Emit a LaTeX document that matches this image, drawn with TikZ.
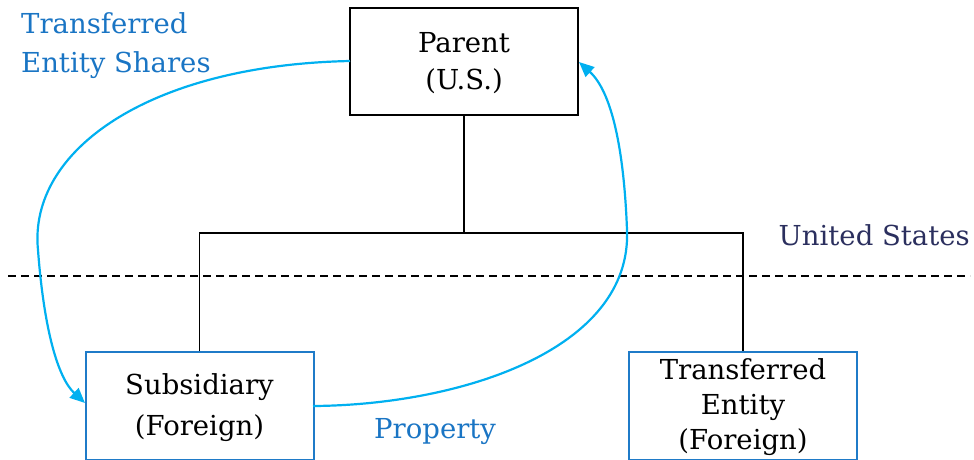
\documentclass[tikz,border=0pt]{standalone}
\usepackage{fontspec}
\setmainfont{DejaVu Serif}
\usetikzlibrary{arrows.meta}
\definecolor{flowcyan}{HTML}{00B0F0}
\definecolor{labelblue}{HTML}{1A75C4}
\definecolor{boxblue}{HTML}{1F7BC8}
\definecolor{navy}{HTML}{2B2F5E}
% invisible strut that lowers a centred text block a little
\newcommand{\lowerby}[1]{\rule{0pt}{\dimexpr 20pt+2\dimexpr #1\relax\relax}}
\tikzset{
  entity/.style={draw=black, line width=1.6pt, minimum width=228pt, minimum height=107pt,
    inner sep=0pt, align=center, font=\fontsize{27.5}{37}\selectfont},
  foreign/.style={entity, draw=boxblue, line width=2pt, minimum height=108pt},
  tree/.style={draw=black, line width=1.4pt},
  flow/.style={draw=flowcyan, line width=2.2pt, -{Triangle[length=15pt,width=13pt]}},
  flowlabel/.style={text=labelblue, align=left, inner sep=0pt, anchor=west,
    font=\fontsize{27.5}{39}\selectfont},
}
\begin{document}
\begin{tikzpicture}[x=1pt,y=-1pt]
\useasboundingbox (0,0) rectangle (974,459);
% ownership boxes
\node[entity] (parent) at (464,61.5) {\lowerby{1.5pt}Parent\\(U.S.)};
\node[foreign, font=\fontsize{27.5}{41}\selectfont] (sub) at (199.5,406)
  {\lowerby{2.5pt}Subsidiary\\(Foreign)};
\node[foreign, font=\fontsize{27.5}{35}\selectfont] (te) at (743,406)
  {\lowerby{2pt}Transferred\\Entity\\(Foreign)};
% ownership tree
\coordinate (hub) at (464,233);
\draw[tree] (parent.south) -- (hub);
\draw[tree] (sub.north) |- (hub) -| (te.north);
% border line
\coordinate (bl) at (8,276);
\coordinate (br) at (970,276);
\draw[line width=1.4pt, dash pattern=on 8pt off 5pt] (bl) -- (br);
\node[text=navy, font=\fontsize{27.5}{30}\selectfont, anchor=east, inner sep=0pt] (us) at (970,235) {United States};
% transfers
\coordinate (pl) at (350,61);
\coordinate (pr) at (579,62);
\coordinate (sl) at (85,403);
\coordinate (sr) at (313,406);
\draw[flow] (pl) .. controls (150,65) and (28,150) .. (38,250)
  .. controls (44,330) and (58,378) .. (sl);
\draw[flow] (sr) .. controls (460,405) and (632,350) .. (627,230)
  .. controls (624,150) and (612,92) .. (pr);
% transfer labels
\node[flowlabel] (shares) at (21,46) {Transferred\\Entity Shares};
\node[flowlabel] (prop) at (374,432) {Property};
\end{tikzpicture}
\end{document}
